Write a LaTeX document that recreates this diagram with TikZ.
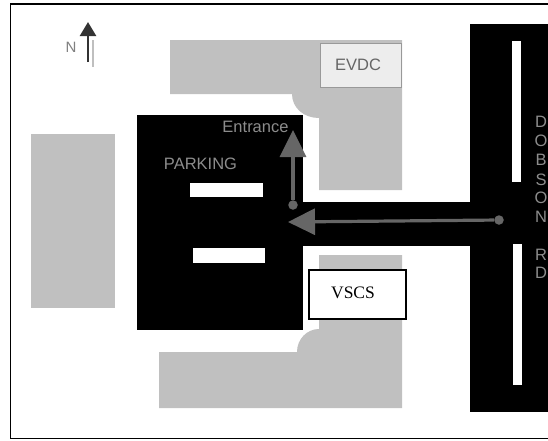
\documentclass[tikz,border=0pt]{standalone}
\usepackage{fontspec}
\setmainfont{Liberation Serif}
\setsansfont{Liberation Sans}
\usetikzlibrary{arrows.meta}
\definecolor{landgray}{HTML}{C0C0C0}
\definecolor{markgray}{HTML}{666666}
\definecolor{labelgray}{HTML}{8C8C8C}
\tikzset{
  land/.style={fill=landgray,draw=none},
  pave/.style={fill=black,draw=none},
  stripe/.style={fill=white,draw=none},
  routeline/.style={draw=markgray,line width=3.2pt,-{Triangle[length=27pt,width=26pt]}},
  routedot/.style={circle,fill=markgray,inner sep=0pt,minimum size=9.5pt},
  roadlabel/.style={font=\sffamily\fontsize{16.5}{18}\selectfont,text=labelgray,inner sep=0pt},
}
\begin{document}
\begin{tikzpicture}[x=1pt,y=-1pt]
\useasboundingbox (0,0) rectangle (548,440);
\fill[white] (0,0) rectangle (548,440);
% land
\fill[land] (31,134) rectangle (115,308);
\fill[land] (170,40) -- (402,40) -- (402,190) -- (319,190) -- (319,118)
  .. controls (304,118) and (292,108) .. (292,94) -- (170,94) -- cycle;
\fill[land] (319,255) -- (402,255) -- (402,408) -- (159,408) -- (159,352) -- (297,352)
  .. controls (297,339) and (307,329) .. (319,329) -- cycle;
% pavement
\fill[pave] (137,115) rectangle (303,330);
\fill[pave] (303,202) rectangle (470,246);
\fill[pave] (470,24) rectangle (548,412);
% stripes
\fill[stripe] (190,183) rectangle (263,197);
\fill[stripe] (193,248) rectangle (265,263);
\fill[stripe] (512,41) rectangle (521,182);
\fill[stripe] (513,244) rectangle (522,385);
% EVDC
\node[draw=gray!80,line width=1pt,fill=black!7,minimum width=81pt,minimum height=44pt,inner sep=0pt] (evdc) at (360.5,65) {};
\node[font=\sffamily\fontsize{16.5}{18}\selectfont,text=black!60,inner sep=0pt] (evdclabel) at (358,65) {EVDC};
% VSCS
\node[draw=black,line width=1.3pt,fill=white,minimum width=97pt,minimum height=49pt,inner sep=0pt] (vscs) at (357.5,294.5) {};
\node[font=\fontsize{17.5}{20}\selectfont,inner sep=0pt] (vscslabel) at (353,293) {VSCS};
% routes
\node[routedot] (dotA) at (499,220) {};
\node[routedot] (dotB) at (293,205) {};
\coordinate (tipA) at (288,222);
\coordinate (tipB) at (293,130);
\draw[routeline] (dotA) -- (tipA);
\draw[routeline] (dotB) -- (tipB);
% labels
\node[roadlabel] (entrance) at (255.5,127) {Entrance};
\node[roadlabel] (parking) at (200.5,164) {PARKING};
\foreach \n/\t/\y in {a/D/122,b/O/141,c/B/160,d/S/180,e/O/198,f/N/217,g/R/255,h/D/273}
  \node[roadlabel] (road\n) at (541,\y) {\t};
% north arrow
\node[font=\sffamily\fontsize{15}{17}\selectfont,text=black!50,inner sep=0pt] (north) at (71,47) {N};
\coordinate (northA) at (88,62);
\coordinate (northB) at (88,22);
\draw[draw=black!25,line width=2.5pt] (93,40) -- (93,67);
\draw[draw=black!80,line width=2.5pt,-{Triangle[length=14pt,width=16pt]}] (northA) -- (northB);
% frame
\draw[line width=1.3pt] (10.5,438.5) -- (10.5,4) -- (548,4);
\draw[line width=1.3pt] (10.5,438.5) -- (548,438.5);
\end{tikzpicture}
\end{document}
